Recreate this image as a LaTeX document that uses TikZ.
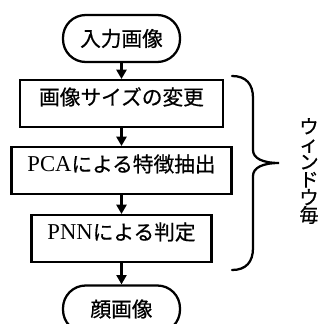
\documentclass[tikz,border=0pt]{standalone}
\usepackage{fontspec}
\setmainfont{Liberation Serif}
\newfontfamily\jp[FakeBold=0.6]{Noto Sans CJK JP}
\usetikzlibrary{arrows.meta}
\begin{document}
\begin{tikzpicture}[x=0.75pt,y=-0.75pt,
  every node/.style={font=\fontsize{15.5}{18}\selectfont},
  procbox/.style={draw, line width=1.7pt, inner xsep=0pt, inner ysep=0pt,
    text height=18.5pt, text depth=16.5pt},
  term/.style={draw, line width=1.7pt, rounded corners=17pt, inner sep=0pt,
    minimum width=87.75pt, minimum height=35.25pt},
  arr/.style={line width=1.7pt, -{Triangle[width=7.5pt,length=7pt]}},
  bracel/.style={line width=1.7pt, line cap=round}]
\useasboundingbox (0,0) rectangle (320,324);
\clip (0,0) rectangle (320,324);
\node[term] (t1) at (121.5,38.5) {\jp 入力画像};
\node[procbox, minimum width=152.25pt] (b1) at (121.5,103.5) {\jp 画像サイズの変更};
\node[procbox, minimum width=165pt] (b2) at (121.5,170.5) {{\fontsize{17}{18}\selectfont PCA}{\jp による特徴抽出}};
\node[procbox, minimum width=135pt] (b3) at (121.5,238.5) {{\fontsize{17}{18}\selectfont PNN}{\jp による判定}};
\node[term] (t2) at (121.5,309) {\jp 顔画像};
\draw[arr] (t1) -- (b1);
\draw[arr] (b1) -- (b2);
\draw[arr] (b2) -- (b3);
\draw[arr] (b3) -- (t2);
\draw[bracel] (232,76) .. controls (246,76) and (253,84) .. (253,98) -- (253,150)
  .. controls (253,158) and (262,163) .. (279,163)
  .. controls (262,163) and (253,168) .. (253,176) -- (253,248)
  .. controls (253,262) and (246,270) .. (232,270);
\node[align=center, inner sep=0pt, font=\jp\fontsize{14.5}{13.3}\selectfont] (w) at (309,171)
  {ウ\\ィ\\ン\\ド\\ウ\\毎};
\end{tikzpicture}
\end{document}
